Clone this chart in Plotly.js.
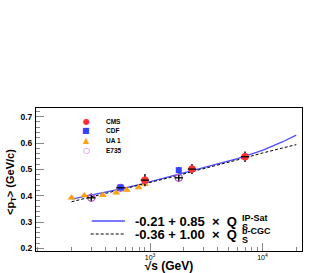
<!DOCTYPE html>
<html><head><meta charset="utf-8">
<script src="https://cdn.plot.ly/plotly-3.0.1.min.js"></script>
<style>html,body{margin:0;padding:0;background:#fff}#c{width:327px;height:273px}</style>
</head><body><div id="c"></div>
<script>
// data
const cmsS=[900,2360,7000];
const cmsPt=[0.459,0.501,0.548];
const cmsErr=[0.023,0.019,0.020];
const cdfS=[546,1800];
const cdfPt=[0.431,0.497];
const cdfErr=[0.007,0.012];
const ua1S=[200,260,380,500,620,790,900];
const ua1Pt=[0.392,0.401,0.402,0.411,0.422,0.431,0.444];
const e735S=[300,546,1800];
const e735Pt=[0.392,0.430,0.468];
const e735Err=[0.016,0.010,0.015];
const fitS=[200,300,500,800,1000,1500,2500,4000,6000,10000,15000,20000];
const ipSat=[0.387,0.402,0.422,0.442,0.453,0.471,0.496,0.519,0.541,0.572,0.604,0.630];
const bCGC=[0.377,0.395,0.418,0.439,0.450,0.469,0.494,0.516,0.536,0.562,0.581,0.594];
const yTicks=[0.2,0.3,0.4,0.5,0.6,0.7];
const yTickText=['0.2','0.3','0.4','0.5','0.6','0.7'];
const xTicks=[1000,10000];
const xTickText=['10<sup>3</sup>','10<sup>4</sup>'];
const xMinor=[100,200,300,400,500,600,700,800,900,2000,3000,4000,5000,6000,7000,8000,9000,20000];
const legendNames=['CMS','CDF','UA 1','E735'];
const fitLabels=['-0.21 + 0.85','-0.36 + 1.00'];
const fitSup=['IP-Sat','b-CGC'];

const F='Liberation Sans, Arial, sans-serif';
const NB='\u00a0';
const errStyle={type:'data',color:'#000',thickness:1.4,width:0,visible:true};
const traces=[
 {x:fitS,y:ipSat,mode:'lines',line:{color:'#4d4dff',width:1.3},hoverinfo:'skip'},
 {x:fitS,y:bCGC,mode:'lines',line:{color:'#000',width:1,dash:'3px,2px'},hoverinfo:'skip'},
 {x:ua1S,y:ua1Pt,mode:'markers',marker:{symbol:'triangle-up',size:7,color:'#ffa010'}},
 {x:e735S,y:e735Pt,mode:'markers',marker:{symbol:'circle-open',size:7,color:'#b060c0',line:{width:1.2}},
  error_y:Object.assign({array:e735Err},errStyle)},
 {x:cdfS,y:cdfPt,mode:'markers',marker:{symbol:'square',size:6,color:'#3344ff'},
  error_y:Object.assign({array:cdfErr},errStyle)},
 {x:cmsS,y:cmsPt,mode:'markers',marker:{symbol:'circle',size:7.5,color:'#ff3030'},
  error_y:Object.assign({array:cmsErr},errStyle)},
 {x:e735S.concat(cmsS),y:e735Pt.concat(cmsPt),mode:'markers',marker:{symbol:'line-ew',size:6,line:{color:'#000',width:1.3}},hoverinfo:'skip'},
 {x:[1000],y:[0.5],xaxis:'x2',mode:'markers',marker:{opacity:0},hoverinfo:'skip'}
];
const lx=v=>(v-36)/266, ly=v=>(251-v)/143;
const ann=[];
const legCol=['#ff3030','#3344ff','#ffa010','#b060c0'];
const legSym=['●','■','▲','○'];
const legY=[121,130.8,140.7,150.7];
for(let i=0;i<4;i++){
 ann.push({xref:'paper',yref:'paper',x:lx(86),y:ly(legY[i]),text:legSym[i],showarrow:false,xanchor:'center',yanchor:'middle',font:{family:'DejaVu Sans',size:8,color:legCol[i]}});
 ann.push({xref:'paper',yref:'paper',x:lx(104),y:ly(legY[i]),text:'<b>'+legendNames[i]+'</b>',showarrow:false,xanchor:'left',yanchor:'middle',font:{family:F,size:6.5,color:'#000'}});
}
const fy=[221,234];
for(let i=0;i<2;i++){
 ann.push({xref:'paper',yref:'paper',x:lx(133),y:ly(fy[i]),text:'<b>'+fitLabels[i]+NB+NB+'×'+NB+NB+'Q</b>',showarrow:false,xanchor:'left',yanchor:'middle',font:{family:F,size:13,color:'#000'}});
 ann.push({xref:'paper',yref:'paper',x:lx(240),y:ly(fy[i]-3.5),text:'<b>'+fitSup[i]+'</b>',showarrow:false,xanchor:'left',yanchor:'middle',font:{family:F,size:9,color:'#000'}});
 ann.push({xref:'paper',yref:'paper',x:lx(240),y:ly(fy[i]+5.5),text:'<b>S</b>',showarrow:false,xanchor:'left',yanchor:'middle',font:{family:F,size:9,color:'#000'}});
}
// y axis title placed explicitly
ann.push({xref:'paper',yref:'paper',x:lx(11),y:ly(182),text:'<b>&lt;p<sub>T</sub>&gt; (GeV/c)</b>',textangle:-90,showarrow:false,xanchor:'center',yanchor:'middle',font:{family:F,size:11,color:'#000'}});
const shapes=[
 {type:'line',xref:'paper',yref:'paper',x0:lx(91.7),x1:lx(125),y0:ly(221),y1:ly(221),line:{color:'#4d4dff',width:1.3}},
 {type:'line',xref:'paper',yref:'paper',x0:lx(90.7),x1:lx(124),y0:ly(234),y1:ly(234),line:{color:'#000',width:1,dash:'3px,2px'}}
];
const xr=[1.985,4.352];
const layout={
 width:327,height:273,margin:{l:36,r:25,t:108,b:22,pad:0},
 paper_bgcolor:'#fff',plot_bgcolor:'#fff',showlegend:false,
 font:{family:F,color:'#000'},
 xaxis:{type:'log',range:xr,tickvals:xTicks,ticktext:xTickText,ticks:'inside',ticklen:8,tickcolor:'#888',
  showgrid:false,zeroline:false,showline:true,linecolor:'#000',linewidth:1,mirror:true,
  tickfont:{family:F,size:7},ticklabelstandoff:0,
  title:{text:'<b>√s (GeV)</b>',font:{family:F,size:12},standoff:4}},
 xaxis2:{type:'log',range:xr,overlaying:'x',side:'bottom',tickvals:xMinor,ticks:'inside',ticklen:4,tickcolor:'#888',
  showticklabels:false,showgrid:false,zeroline:false,showline:false},
 yaxis:{range:[0.19,0.733],tickvals:yTicks,ticktext:yTickText.map(t=>'<b>'+t+'</b>'),ticks:'inside',ticklen:8,tickcolor:'#888',
  minor:{dtick:0.02,tick0:0.2,ticks:'inside',ticklen:4,tickcolor:'#888'},
  showgrid:false,zeroline:false,showline:true,linecolor:'#000',linewidth:1,mirror:true,
  tickfont:{family:F,size:8.5},ticklabelstandoff:1},
 annotations:ann,shapes:shapes
};
Plotly.newPlot('c',traces,layout,{staticPlot:true,displayModeBar:false});
</script></body></html>
